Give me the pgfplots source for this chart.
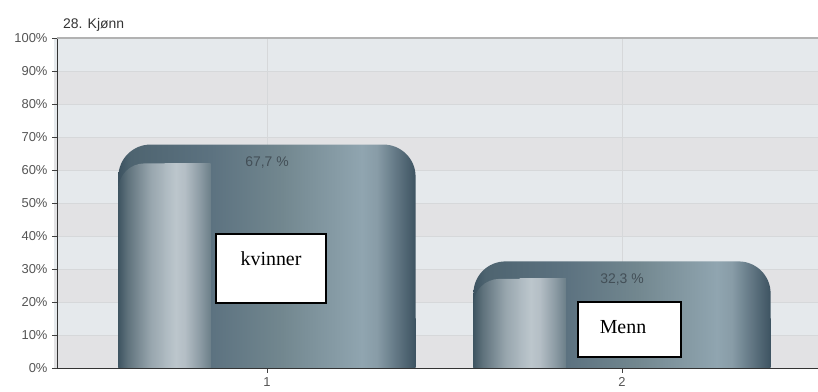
\documentclass[border=0pt]{standalone}
\usepackage{fontspec}
\setmainfont{Liberation Sans}
\newfontfamily\serifx{Liberation Serif}
\usepackage{pgfplots}
\pgfplotsset{compat=1.18}

\definecolor{bandA}{HTML}{E5E9EC}
\definecolor{bandB}{HTML}{E2E2E4}
\definecolor{gridc}{HTML}{D6D8DA}
\definecolor{tickc}{HTML}{555555}
\definecolor{valc}{HTML}{434F57}

\definecolor{o0}{HTML}{3C5260}
\definecolor{o1}{HTML}{4E6470}
\definecolor{o2}{HTML}{5C7280}
\definecolor{o3}{HTML}{72878F}
\definecolor{o4}{HTML}{90A5B0}
\definecolor{o5}{HTML}{889CA7}
\definecolor{o6}{HTML}{5F7481}
\definecolor{o7}{HTML}{3D5361}

\definecolor{s0}{HTML}{3F5562}
\definecolor{s1}{HTML}{5F727C}
\definecolor{s2}{HTML}{98A6AE}
\definecolor{s3}{HTML}{BCC6CC}
\definecolor{s4}{HTML}{B4BEC5}
\definecolor{s5}{HTML}{8D9CA5}
\definecolor{s6}{HTML}{6C7F89}
\definecolor{sm}{HTML}{ADB9C0}

\pgfdeclarehorizontalshading{outerbar}{100bp}{color(0bp)=(o0); color(25bp)=(o0); color(27bp)=(o1); color(40.5bp)=(o2); color(52.5bp)=(o3); color(66bp)=(o4); color(68.5bp)=(o5); color(72bp)=(o6); color(75bp)=(o7); color(100bp)=(o7)}
\pgfdeclarehorizontalshading{stripbar}{100bp}{color(0bp)=(s0); color(25bp)=(s0); color(30bp)=(s1); color(42.5bp)=(s2); color(56bp)=(s3); color(61bp)=(s4); color(69bp)=(s5); color(75bp)=(s6); color(100bp)=(s6)}
\pgfdeclarehorizontalshading{stripright}{100bp}{color(0bp)=(sm); color(25bp)=(sm); color(37bp)=(s3); color(47bp)=(s4); color(63bp)=(s5); color(75bp)=(s6); color(100bp)=(s6)}

\pgfplotsset{
  outer/.style={ybar, bar width=0.837, bar shift=0, draw=none, shading=outerbar},
  strip/.style={ybar, bar width=0.26, bar shift=-0.2885, draw=none, shading=stripbar},
  stripr/.style={ybar, bar width=0.13, bar shift=-0.2235, draw=none, shading=stripright},
}

\begin{document}
\begin{tikzpicture}
\begin{axis}[
  name=ax,
  set layers=standard,
  scale only axis,
  width=761bp, height=330bp,
  xmin=0.4085, xmax=2.552,
  ymin=0, ymax=100,
  axis y line*=left, axis x line*=bottom,
  axis line style={draw=black!80, line width=0.9bp},
  xtick={1,2}, xticklabels={1,2},
  ytick={0,10,...,100},
  yticklabels={0\%,10\%,20\%,30\%,40\%,50\%,60\%,70\%,80\%,90\%,100\%},
  tick align=outside,
  major tick length=5bp,
  tick style={black!75, line width=0.8bp},
  xmajorgrids, ymajorgrids,
  grid style={gridc, line width=0.8bp},
  ticklabel style={font=\fontsize{13}{15}\selectfont, text=tickc},
  yticklabel style={xshift=-1bp},
  xticklabel style={yshift=-1bp},
  /pgf/number format/assume math mode=true,
]
\begin{pgfonlayer}{axis background}
  \fill[bandB] (axis cs:0.4,0) rectangle (axis cs:2.6,100);
  \pgfplotsinvokeforeach{10,30,50,70,90}{
    \fill[bandA] (axis cs:0.4,#1) rectangle (axis cs:2.6,#1+10);
  }
\end{pgfonlayer}

% bar 1
\addplot[outer, rounded corners=32bp] coordinates {(1,67.7)};
\addplot[outer] coordinates {(1,15)};
\addplot[strip, rounded corners=26bp] coordinates {(1,62.0)};
\addplot[strip] coordinates {(1,15)};
\addplot[stripr] coordinates {(1,62.0)};
% bar 2
\addplot[outer, rounded corners=32bp] coordinates {(2,32.3)};
\addplot[outer] coordinates {(2,15)};
\addplot[strip, rounded corners=26bp] coordinates {(2,27.0)};
\addplot[strip] coordinates {(2,15)};
\addplot[stripr] coordinates {(2,27.0)};

% value labels
\addplot[only marks, mark=none, nodes near coords={\pgfmathprintnumber[fixed,fixed zerofill,precision=1,use comma]{\pgfplotspointmeta}\ \%},
  every node near coord/.append style={anchor=north, yshift=-9bp, font=\fontsize{14}{16}\selectfont, text=valc}]
  coordinates {(1,67.7) (2,32.3)};

% annotation boxes
\draw[black, line width=1.3bp, fill=white] (axis cs:0.8563,19.7) rectangle (axis cs:1.1662,40.6);
\node[anchor=base, font=\serifx\fontsize{20}{24}\selectfont] at (axis cs:1.0113,31.2) {kvinner};
\draw[black, line width=1.3bp, fill=white] (axis cs:1.876,3.33) rectangle (axis cs:2.166,20.0);
\node[anchor=base, font=\serifx\fontsize{20}{24}\selectfont] at (axis cs:2.0028,10.6) {Menn};
\end{axis}
\draw[black!30, line width=2bp] (ax.north west) -- (ax.north east);
\node[anchor=base west, inner sep=0pt, font=\fontsize{14}{16}\selectfont, text=black!80] at ([shift={(6bp,9bp)}]ax.north west) {28. Kjønn};
\pgfresetboundingbox
\useasboundingbox ([shift={(-57bp,-24bp)}]ax.south west) rectangle ([shift={(0bp,38bp)}]ax.north east);
\end{tikzpicture}
\end{document}
